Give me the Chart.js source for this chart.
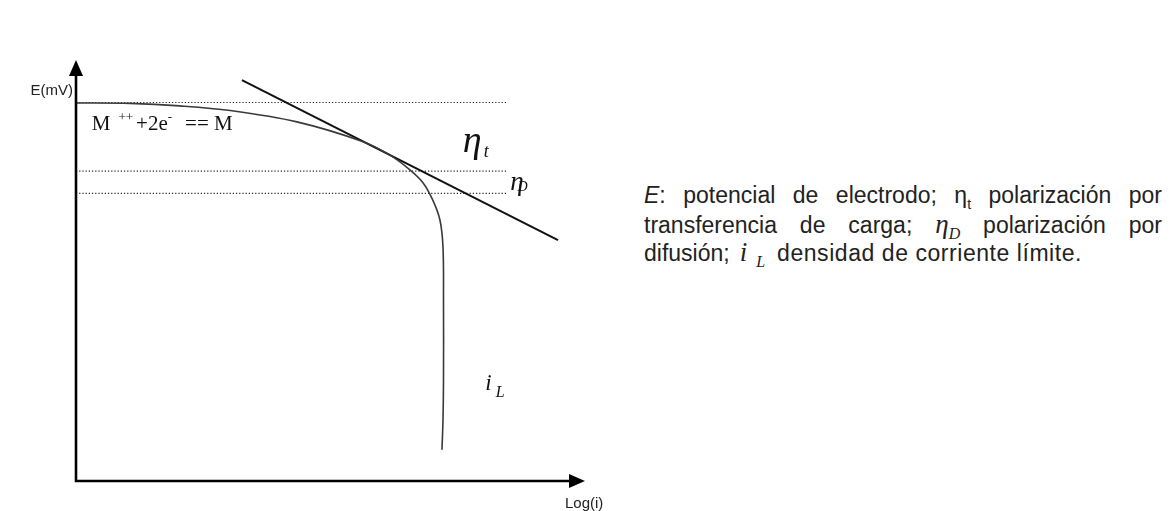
<!DOCTYPE html>
<html>
<head>
<meta charset="utf-8">
<script src="https://cdn.jsdelivr.net/npm/chart.js@4"></script>
<style>
  body { margin: 0; background: #fff; }
  #wrap { position: absolute; left: 0; top: 0; width: 620px; height: 511px; }
  #caption {
    position: absolute; left: 644px; top: 181px; width: 518px;
    font-family: "Liberation Sans", Arial, sans-serif; font-size: 23px;
    color: #222;
  }
  #caption div { height: 28.5px; line-height: 28px; white-space: nowrap; }
  #caption .j { text-align: justify; text-align-last: justify; }
  #caption .ser { font-family: "Liberation Serif", "Times New Roman", serif; font-style: italic; font-size: 27px; }
  #caption sub { font-size: 16px; line-height: 0; }
  #caption .st { font-size: 14px; line-height: 0; }
  #caption .iL { margin-left: 10px; }
  #caption .iL sub { margin-left: 9px; }
  #caption .rest { margin-left: 12px; letter-spacing: 0.55px; }
</style>
</head>
<body>
<div id="wrap"><canvas id="graph"></canvas></div>
<div id="caption">
  <div class="j"><i>E</i>: potencial de electrodo; η<sub class="st">t</sub> polarización por</div>
  <div class="j">transferencia de carga; <span class="ser">η<sub>D</sub></span> polarización por</div>
  <div>difusión;<span class="ser iL">i<sub>L</sub></span><span class="rest">densidad de corriente límite.</span></div>
</div>
<script>
// curva de polarización (Log(i), E)
const curveX = [0, 10.6, 20.4, 30.3, 43.4, 56.4, 61.7, 65.6, 68.2, 70.1, 71.5, 72.1, 72.2, 72.2, 72.1, 71.9];
const curveY = [89.8, 89.7, 89.1, 88.0, 85.3, 80.6, 77.4, 73.9, 70.8, 66.7, 62.0, 55.6, 43.0, 24.0, 14.5, 7.4];

// recta de Tafel
const tafelX = [32.6, 94.7];
const tafelY = [95.2, 57.2];

// niveles punteados
const levels = [89.9, 73.6, 68.3];
const levelEnd = 84.7;

const ctx = document.getElementById("graph");

const pts = (xs, ys) => xs.map((x, i) => ({ x: x, y: ys[i] }));

const datasets = [
  {
    data: pts(curveX, curveY),
    borderColor: "#3a3a3a",
    borderWidth: 1.6,
    tension: 0.35,
    pointRadius: 0,
  },
  {
    data: pts(tafelX, tafelY),
    borderColor: "#111",
    borderWidth: 2,
    pointRadius: 0,
  },
];
levels.forEach((lv) => {
  datasets.push({
    data: [{ x: 0, y: lv }, { x: levelEnd, y: lv }],
    borderColor: "#222",
    borderWidth: 1.2,
    borderDash: [1.2, 2],
    pointRadius: 0,
  });
});

const serif = '"Liberation Serif", "Times New Roman", serif';
const sans = '"Liberation Sans", Arial, sans-serif';

// texto con subíndice/superíndice
function drawParts(c, x, y, parts) {
  let cx = x;
  parts.forEach((p) => {
    c.font = p.font;
    c.fillText(p.t, cx, y + (p.dy || 0));
    cx += c.measureText(p.t).width + (p.gap || 0);
  });
}

const decor = {
  id: "decor",
  afterDatasetsDraw(chart) {
    const c = chart.ctx;
    const a = chart.chartArea;
    const xs = chart.scales.x;
    const ys = chart.scales.y;
    c.save();
    c.fillStyle = "#000";
    c.strokeStyle = "#000";
    c.lineWidth = 2.6;
    // ejes
    c.beginPath();
    c.moveTo(a.left, a.top + 12);
    c.lineTo(a.left, a.bottom);
    c.lineTo(a.right - 12, a.bottom);
    c.stroke();
    c.beginPath();
    c.moveTo(a.left, a.top);
    c.lineTo(a.left - 7, a.top + 16);
    c.lineTo(a.left + 7, a.top + 16);
    c.closePath();
    c.fill();
    c.beginPath();
    c.moveTo(a.right, a.bottom);
    c.lineTo(a.right - 16, a.bottom - 7);
    c.lineTo(a.right - 16, a.bottom + 7);
    c.closePath();
    c.fill();

    c.fillStyle = "#222";
    c.textBaseline = "alphabetic";
    c.font = "15px " + sans;
    c.textAlign = "right";
    c.fillText("E(mV)", a.left - 3, a.top + 35);
    c.textAlign = "left";
    c.fillText("Log(i)", a.right - 20, a.bottom + 27);

    c.fillStyle = "#111";
    drawParts(c, xs.getPixelForValue(3.1), ys.getPixelForValue(83.4), [
      { t: "M", font: "21px " + serif, gap: 8 },
      { t: "++", font: "13px " + serif, dy: -9, gap: 3 },
      { t: "+2e", font: "21px " + serif },
      { t: "-", font: "13px " + serif, dy: -9, gap: 13 },
      { t: "== M", font: "21px " + serif },
    ]);
    drawParts(c, xs.getPixelForValue(76.0), ys.getPixelForValue(78.1), [
      { t: "η", font: "italic 38px " + serif, gap: 2 },
      { t: "t", font: "italic 18px " + serif, dy: 5 },
    ]);
    drawParts(c, xs.getPixelForValue(85.3), ys.getPixelForValue(69.1), [
      { t: "η", font: "italic 27px " + serif, gap: -6 },
      { t: "D", font: "italic 14px " + serif, dy: 1 },
    ]);
    drawParts(c, xs.getPixelForValue(80.4), ys.getPixelForValue(21.6), [
      { t: "i", font: "italic 23px " + serif, gap: 4 },
      { t: "L", font: "italic 16px " + serif, dy: 7 },
    ]);
    c.restore();
  },
};

new Chart(ctx, {
  type: "scatter",
  data: { datasets: datasets },
  options: {
    responsive: true,
    maintainAspectRatio: false,
    animation: false,
    showLine: true,
    layout: { padding: { left: 76, right: 35, top: 60, bottom: 30 } },
    plugins: {
      legend: { display: false },
      tooltip: { enabled: false },
    },
    scales: {
      x: { type: "linear", min: 0, max: 100, display: false },
      y: { type: "linear", min: 0, max: 100, display: false },
    },
  },
  plugins: [decor],
});
</script>
</body>
</html>
